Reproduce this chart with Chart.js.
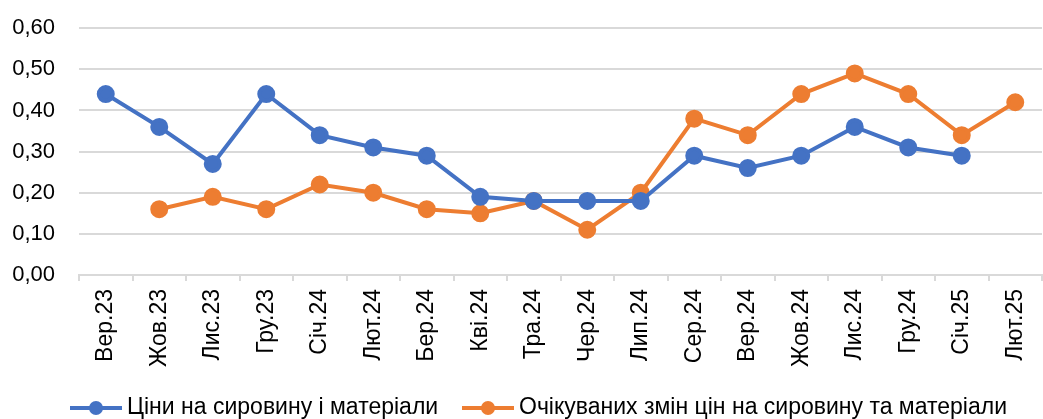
<!DOCTYPE html>
<html>
<head>
<meta charset="utf-8">
<script src="https://cdn.jsdelivr.net/npm/chart.js@4"></script>
<style>
  html, body { margin: 0; padding: 0; background: #fff; overflow: hidden; }
  #wrap { width: 1053px; height: 428px; margin-top: -9px; }
</style>
</head>
<body>
<div id="wrap"><canvas id="priceChart" width="1053" height="428"></canvas></div>
<script>
const months = ["Вер.23", "Жов.23", "Лис.23", "Гру.23", "Січ.24", "Лют.24", "Бер.24", "Кві.24", "Тра.24",
    "Чер.24", "Лип.24", "Сер.24", "Вер.24", "Жов.24", "Лис.24", "Гру.24", "Січ.25", "Лют.25"];
const pricesNow = [0.44, 0.36, 0.27, 0.44, 0.34, 0.31, 0.29, 0.19, 0.18, 0.18, 0.18, 0.29, 0.26, 0.29, 0.36, 0.31, 0.29, null];
const pricesExpected = [null, 0.16, 0.19, 0.16, 0.22, 0.20, 0.16, 0.15, 0.18, 0.11, 0.20, 0.38, 0.34, 0.44, 0.49, 0.44, 0.34, 0.42];
const seriesNames = ["Ціни на сировину і матеріали", "Очікуваних змін цін на сировину та матеріали"];
const yTicks = [0, 0.1, 0.2, 0.3, 0.4, 0.5, 0.6];

const blue = '#4472C4';
const orange = '#ED7D31';
const fontName = '"Liberation Sans", Arial, sans-serif';

// legend drawn by hand: line with a dot in the middle, like the office chart
const bottomLegend = {
    id: 'bottomLegend',
    afterDraw(chart) {
        const ctx = chart.ctx;
        const y = 417;
        const items = [[70, blue, seriesNames[0]], [462, orange, seriesNames[1]]];
        ctx.save();
        ctx.font = '23px ' + fontName;
        ctx.textBaseline = 'middle';
        items.forEach(([x, color, text]) => {
            ctx.strokeStyle = color;
            ctx.fillStyle = color;
            ctx.lineWidth = 4;
            ctx.beginPath();
            ctx.moveTo(x, y);
            ctx.lineTo(x + 52, y);
            ctx.stroke();
            ctx.beginPath();
            ctx.arc(x + 26, y, 7, 0, Math.PI * 2);
            ctx.fill();
            ctx.fillStyle = '#000';
            ctx.fillText(text, x + 57, y);
        });
        ctx.restore();
    }
};

const makeSet = (label, data, color) => ({
    label: label,
    data: data,
    borderColor: color,
    backgroundColor: color,
    borderWidth: 4,
    pointRadius: 7,
    pointHoverRadius: 7,
    tension: 0,
    spanGaps: false
});

new Chart(document.getElementById('priceChart'), {
    type: 'line',
    data: {
        labels: months,
        datasets: [
            makeSet(seriesNames[0], pricesNow, blue),
            makeSet(seriesNames[1], pricesExpected, orange)
        ]
    },
    options: {
        responsive: false,
        animation: false,
        layout: { padding: 0 },
        plugins: {
            legend: { display: false },
            tooltip: { enabled: false }
        },
        scales: {
            x: {
                offset: true,
                grid: {
                    offset: true,
                    drawOnChartArea: false,
                    color: '#d9d9d9',
                    lineWidth: 2,
                    tickLength: 6
                },
                border: { color: '#d9d9d9', width: 2 },
                ticks: {
                    color: '#000',
                    font: { family: fontName, size: 23 },
                    maxRotation: 90,
                    minRotation: 90,
                    padding: 8,
                    autoSkip: false
                },
                afterFit(scale) { scale.height = 144; }
            },
            y: {
                min: 0,
                max: 0.6,
                afterBuildTicks(scale) { scale.ticks = yTicks.map(v => ({ value: v })); },
                grid: { color: '#d9d9d9', lineWidth: 2, drawTicks: false },
                border: { display: false },
                ticks: {
                    color: '#000',
                    font: { family: fontName, size: 22 },
                    padding: 24,
                    callback: (v) => v.toFixed(2).replace('.', ',')
                },
                afterFit(scale) { scale.width = 79; }
            }
        }
    },
    plugins: [bottomLegend]
});
</script>
</body>
</html>
